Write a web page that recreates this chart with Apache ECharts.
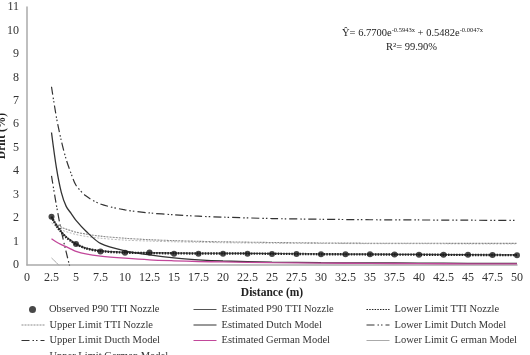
<!DOCTYPE html>
<html>
<head>
<meta charset="utf-8">
<script src="https://cdn.jsdelivr.net/npm/echarts@6/dist/echarts.min.js"></script>
<style>
  html, body { margin: 0; padding: 0; background: #fff; }
  #chart { width: 530px; height: 355px; }
</style>
</head>
<body>
<div id="chart"></div>
<script>
// distances (m)
var obsX = [2.5, 5, 7.5, 10, 12.5, 15, 17.5, 20, 22.5, 25, 27.5, 30, 32.5, 35, 37.5, 40, 42.5, 45, 47.5, 50];
var obsY = [2.06, 0.9, 0.58, 0.52, 0.53, 0.48, 0.48, 0.48, 0.48, 0.47, 0.47, 0.46, 0.46, 0.46, 0.45, 0.44, 0.44, 0.44, 0.43, 0.42];

// x positions the fitted curves were read at
var curveX = [2.5, 3, 3.5, 4, 4.5, 5, 6, 7.5, 10, 12.5, 15, 17.5, 20, 25, 30, 35, 40, 45, 50];

var estTTI   = [2.07, 1.7, 1.42, 1.2, 1.04, 0.9, 0.72, 0.6, 0.54, 0.52, 0.51, 0.5, 0.5, 0.49, 0.47, 0.46, 0.45, 0.44, 0.43];
var lowTTI   = [2.05, 1.68, 1.4, 1.18, 1.02, 0.89, 0.71, 0.59, 0.53, 0.51, 0.5, 0.49, 0.49, 0.48, 0.46, 0.45, 0.44, 0.43, 0.42];
var upTTI    = [2.0, 1.75, 1.62, 1.53, 1.46, 1.4, 1.32, 1.23, 1.14, 1.08, 1.04, 1.01, 0.99, 0.96, 0.94, 0.93, 0.93, 0.92, 0.92];
var estDutch = [5.65, 4.15, 3.1, 2.5, 2.2, 1.9, 1.45, 0.92, 0.6, 0.43, 0.3, 0.22, 0.17, 0.12, 0.1, 0.09, 0.08, 0.07, 0.07];
var lowDutch = [3.8, 2.55, 1.45, 0.55, -0.3];
var upDutch  = [7.6, 6.3, 5.3, 4.5, 3.9, 3.4, 2.95, 2.6, 2.35, 2.22, 2.14, 2.08, 2.04, 1.98, 1.95, 1.93, 1.92, 1.91, 1.9];
var estGerman = [1.12, 0.98, 0.87, 0.78, 0.68, 0.58, 0.47, 0.38, 0.29, 0.22, 0.18, 0.15, 0.13, 0.1, 0.08, 0.07, 0.06, 0.05, 0.05];
var lowGerman = [0.3, 0.1, -0.12];
var upGerman  = [1.8, 1.62, 1.5, 1.42, 1.36, 1.3, 1.22, 1.14, 1.06, 1.02, 0.99, 0.97, 0.95, 0.93, 0.92, 0.91, 0.91, 0.9, 0.9];

var names = [
  'Observed P90 TTI Nozzle', 'Estimated P90 TTI Nozzle', 'Lower Limit TTI Nozzle',
  'Upper Limit TTI Nozzle', 'Estimated Dutch Model', 'Lower Limit Dutch Model',
  'Upper Limit Ducth Model', 'Estimated German Model', 'Lower Limit G erman Model',
  'Upper Limit German Model'
];

var FONT = 'Liberation Serif';

function pairs(xs, ys) {
  return ys.map(function (y, i) { return [xs[i], y]; });
}

function curve(name, ys, color, width, type, z) {
  return {
    name: name,
    type: 'line',
    data: pairs(curveX, ys),
    smooth: 0.3,
    symbol: 'none',
    clip: true,
    z: z || 2,
    lineStyle: { color: color, width: width, type: type },
    itemStyle: { color: color }
  };
}

var dashDot = [8, 3, 1.5, 2, 1.5, 3];

// legend layout: one legend per item
var colLeft = [21, 193, 366];
var rowTop = [304, 319.5, 335, 350.5];
var legends = names.map(function (n, i) {
  var col = i % 3, row = Math.floor(i / 3);
  var obs = i === 0;
  return {
    data: [obs ? { name: n, icon: 'circle' } : n],
    left: obs ? 29 : colLeft[col],
    top: rowTop[row],
    itemWidth: obs ? 7 : 23,
    itemHeight: obs ? 7 : 12,
    padding: 0,
    selectedMode: false,
    itemStyle: obs ? {} : { opacity: 0 },
    lineStyle: { width: 1 },
    textStyle: { fontFamily: FONT, fontSize: 10.5, color: '#333' }
  };
});
legends[0].textStyle = { fontFamily: FONT, fontSize: 10.5, color: '#333', padding: [0, 0, 0, 8] };

var chart = echarts.init(document.getElementById('chart'));
chart.setOption({
  animation: false,
  backgroundColor: '#fff',
  grid: { left: 27, right: 13, top: 7, bottom: 90, containLabel: false, outerBoundsMode: 'none' },
  legend: legends,
  xAxis: {
    type: 'value',
    min: 0, max: 50, interval: 2.5,
    name: 'Distance (m)',
    nameLocation: 'middle',
    nameGap: 22,
    nameMoveOverlap: false,
    nameTextStyle: { fontFamily: FONT, fontSize: 11.5, fontWeight: 'bold', color: '#222' },
    axisLine: { lineStyle: { color: '#aaa', width: 1.5 } },
    axisTick: { show: false },
    splitLine: { show: false },
    axisLabel: { fontFamily: FONT, fontSize: 12, color: '#333', margin: 7, formatter: function (v) { return String(v); } }
  },
  yAxis: {
    type: 'value',
    min: 0, max: 11, interval: 1,
    name: 'Drift (%)',
    nameLocation: 'middle',
    nameGap: 19,
    nameRotate: 90,
    nameMoveOverlap: false,
    nameTextStyle: { fontFamily: FONT, fontSize: 11.5, fontWeight: 'bold', color: '#222' },
    axisLine: { show: true, lineStyle: { color: '#aaa', width: 1.5 } },
    axisTick: { show: false },
    splitLine: { show: false },
    axisLabel: { fontFamily: FONT, fontSize: 12, color: '#333', margin: 8 }
  },
  graphic: [
    {
      type: 'text',
      left: 342, top: 27,
      style: {
        text: '{b|Ŷ= 6.7700e}{s|-0.5943x}{b| + 0.5482e}{s|-0.0047x}',
        rich: {
          b: { fontFamily: FONT, fontSize: 10.5, fill: '#222', lineHeight: 14 },
          s: { fontFamily: FONT, fontSize: 6.5, fill: '#222', lineHeight: 14, padding: [0, 0, 6, 0] }
        }
      }
    },
    {
      type: 'text',
      left: 386, top: 42,
      style: { text: 'R²= 99.90%', fontFamily: FONT, fontSize: 10.5, fill: '#222' }
    }
  ],
  series: [
    {
      name: names[0],
      type: 'scatter',
      data: pairs(obsX, obsY),
      symbol: 'circle',
      symbolSize: 6,
      z: 5,
      itemStyle: { color: '#1a1a1a' }
    },
    curve(names[1], estTTI, '#555', 1.2, 'solid', 3),
    curve(names[2], lowTTI, '#222', 2.4, [1.5, 1.2], 4),
    curve(names[3], upTTI, '#8a8a8a', 1.1, [2, 1], 2),
    curve(names[4], estDutch, '#333', 1.3, 'solid', 3),
    {
      name: names[5],
      type: 'line',
      data: pairs(curveX, lowDutch),
      smooth: 0.3,
      symbol: 'none',
      clip: true,
      lineStyle: { color: '#333', width: 1.2, type: dashDot },
      itemStyle: { color: '#333' }
    },
    curve(names[6], upDutch, '#333', 1.2, dashDot, 2),
    curve(names[7], estGerman, '#c2479a', 1.3, 'solid', 3),
    {
      name: names[8],
      type: 'line',
      data: pairs(curveX, lowGerman),
      smooth: 0.3,
      symbol: 'none',
      clip: true,
      lineStyle: { color: '#aaa', width: 1, type: 'solid' },
      itemStyle: { color: '#aaa' }
    },
    curve(names[9], upGerman, '#bbb', 1, [2, 1.5], 1)
  ]
});
</script>
</body>
</html>
